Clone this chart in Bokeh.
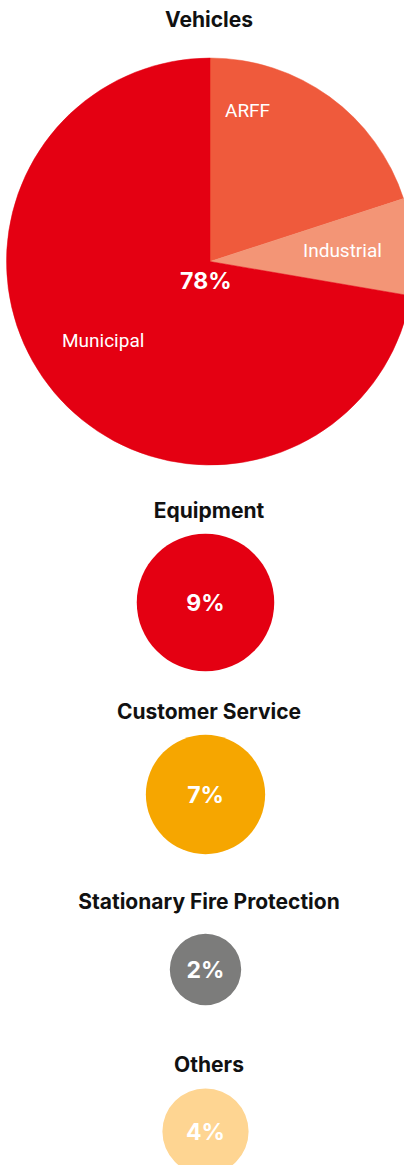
import math
from bokeh.plotting import figure
from bokeh.models import Range1d, ColumnDataSource
from bokeh.core.properties import value
from bokeh.embed import file_html
from bokeh.resources import INLINE

# ---------------- data ----------------
segments = ["Vehicles", "Equipment", "Customer Service", "Stationary Fire Protection", "Others"]
segment_shares = [78.0, 8.9, 6.7, 2.4, 3.5]          # share of revenue (circle area)
segment_labels = ["78%", "9%", "7%", "2%", "4%"]

vehicle_types = ["ARFF", "Industrial", "Municipal"]
vehicle_type_shares = [20.0, 7.7, 72.3]               # split inside the Vehicles pie

# ---------------- styles / layout ----------------
segment_colors = ["#e40012", "#e40012", "#f6a600", "#7c7c7b", "#fed592"]
vehicle_colors = ["#ef5a3c", "#f39576", "#e40012"]

W, H = 404, 1165
center_x = [209.5, 205, 205, 205, 205]
center_y = [261, 602, 794, 969, 1131]
title_y = [19, 510, 711, 901, 1064]
title_x = 208.5
k = 203.5 / math.sqrt(segment_shares[0])   # radius scale: area ~ share

# label offsets for pie slices (px relative to pie centre)
label_offsets = [(15, -151), (93, -11), (-148, 79)]

p = figure(width=W, height=H, output_backend="svg", toolbar_location=None,
           x_range=Range1d(0, W), y_range=Range1d(-H, 0),
           min_border=0)
p.axis.visible = False
p.grid.visible = False
p.outline_line_color = None
p.background_fill_color = "white"
p.border_fill_color = "white"

radii = [k * math.sqrt(s) for s in segment_shares]

# Vehicles pie
total = sum(vehicle_type_shares)
starts, ends = [], []
acc = 0.0
for s in vehicle_type_shares:
    starts.append(math.pi / 2 - 2 * math.pi * acc / total)
    acc += s
    ends.append(math.pi / 2 - 2 * math.pi * acc / total)
pie_src = ColumnDataSource(dict(
    x=[center_x[0]] * 3, y=[-center_y[0]] * 3, r=[radii[0]] * 3,
    start=starts, end=ends, color=vehicle_colors, name=vehicle_types))
p.wedge(x="x", y="y", radius="r", start_angle="start", end_angle="end",
        direction="clock", fill_color="color", line_color="color",
        line_width=0.5, source=pie_src)

# other segment circles
circ_src = ColumnDataSource(dict(
    x=center_x[1:], y=[-v for v in center_y[1:]], r=radii[1:],
    color=segment_colors[1:]))
p.circle(x="x", y="y", radius="r", fill_color="color", line_color=None,
         source=circ_src)

# slice labels
p.text(x=[center_x[0] + dx for dx, dy in label_offsets],
       y=[-(center_y[0] + dy) for dx, dy in label_offsets],
       text=vehicle_types, text_color="white", text_align="left",
       text_baseline="middle", text_font=value("Roboto"), text_font_size="19px")

# titles
p.text(x=[title_x] * len(segments), y=[-v for v in title_y], text=segments,
       text_color="#111111", text_align="center", text_baseline="middle",
       text_font=value("Inter"), text_font_style="bold", text_font_size="21px")

# percentage labels
pct_y = [center_y[0] + 19] + center_y[1:]
p.text(x=[205.3] + [205] * 4, y=[-v for v in pct_y], text=segment_labels,
       text_color="white", text_align="center", text_baseline="middle",
       text_font=value("Inter"), text_font_style="bold", text_font_size="23px")

open("out.html", "w").write(file_html(p, INLINE))
